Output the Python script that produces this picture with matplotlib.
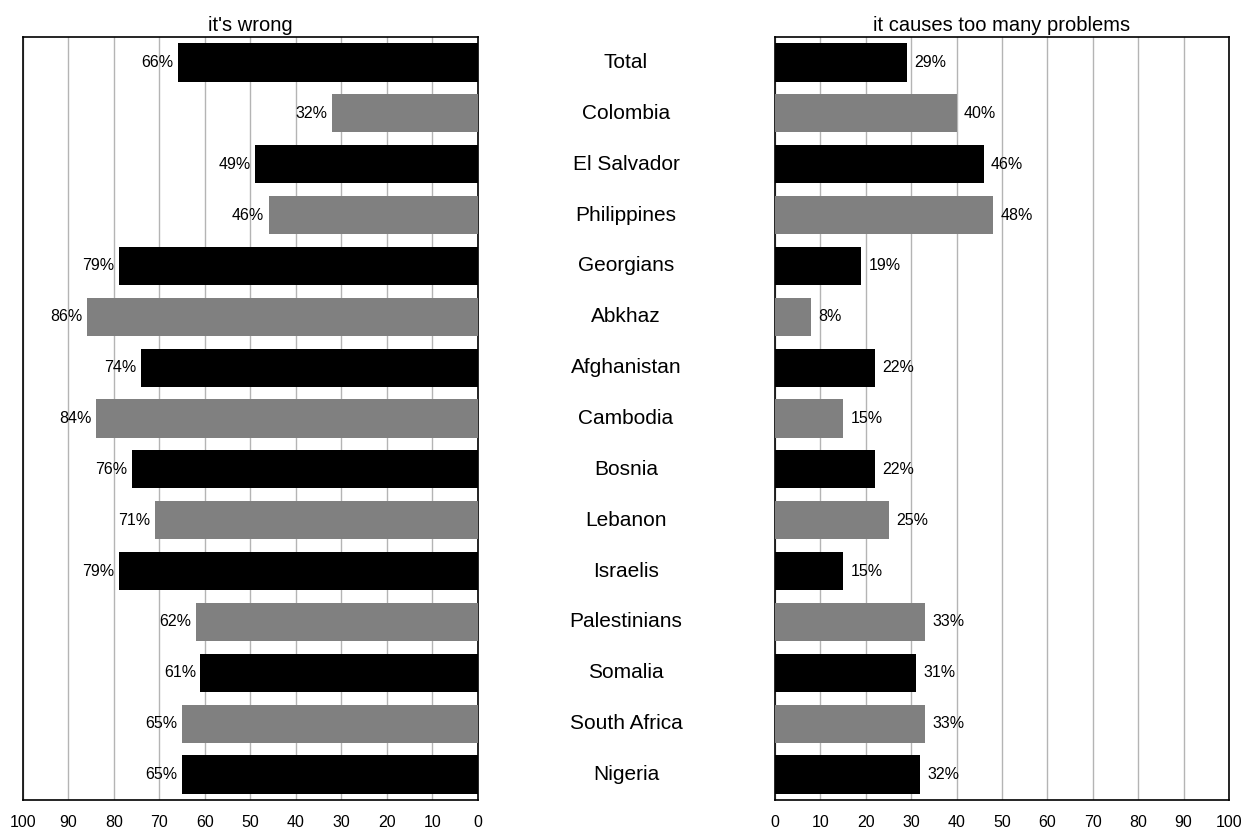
import matplotlib
matplotlib.use("Agg")
import matplotlib.pyplot as plt
import numpy as np

plt.rcParams['font.family'] = ['Liberation Sans', 'DejaVu Sans']

categories = ["Total", "Colombia", "El Salvador", "Philippines", "Georgians", "Abkhaz",
              "Afghanistan", "Cambodia", "Bosnia", "Lebanon", "Israelis", "Palestinians",
              "Somalia", "South Africa", "Nigeria"]
wrong = [66, 32, 49, 46, 79, 86, 74, 84, 76, 71, 79, 62, 61, 65, 65]
problems = [29, 40, 46, 48, 19, 8, 22, 15, 22, 25, 15, 33, 31, 33, 32]
colors = ["#000000", "#808080"] * 8
colors = colors[:len(categories)]
ticks = list(range(0, 101, 10))

fig = plt.figure(figsize=(12.51, 8.31), dpi=100)
axL = fig.add_axes([23/1251, 1-800/831, 455/1251, 763/831])
axR = fig.add_axes([775/1251, 1-800/831, 454/1251, 763/831])

y = np.arange(len(categories))
for ax, vals in ((axL, wrong), (axR, problems)):
    ax.barh(y, vals, height=0.75, color=colors, zorder=3)
    ax.set_xlim(0, 100)
    ax.set_ylim(len(categories) - 0.5, -0.5)
    ax.set_xticks(ticks)
    ax.set_xticklabels([str(t) for t in ticks], fontsize=11.5)
    ax.set_yticks([])
    ax.tick_params(axis='x', length=0, pad=11)
    ax.grid(axis='x', color='#b4b4b4', linewidth=1, zorder=0)
    for s in ax.spines.values():
        s.set_color('black')
        s.set_linewidth(1.2)

axL.invert_xaxis()
axL.set_title("it's wrong", fontsize=14.5, pad=4)
axR.set_title("it causes too many problems", fontsize=14.5, pad=4)

for i, v in enumerate(wrong):
    axL.text(v + 1.0, i, f"{v}%", ha='right', va='center', fontsize=11.5, zorder=4)
for i, v in enumerate(problems):
    axR.text(v + 1.6, i, f"{v}%", ha='left', va='center', fontsize=11.5, zorder=4)

trans = matplotlib.transforms.blended_transform_factory(fig.transFigure, axL.transData)
for i, c in enumerate(categories):
    fig.text(626/1251, i, c, transform=trans, ha='center', va='center', fontsize=15)

fig.savefig("out.png", dpi=100)
